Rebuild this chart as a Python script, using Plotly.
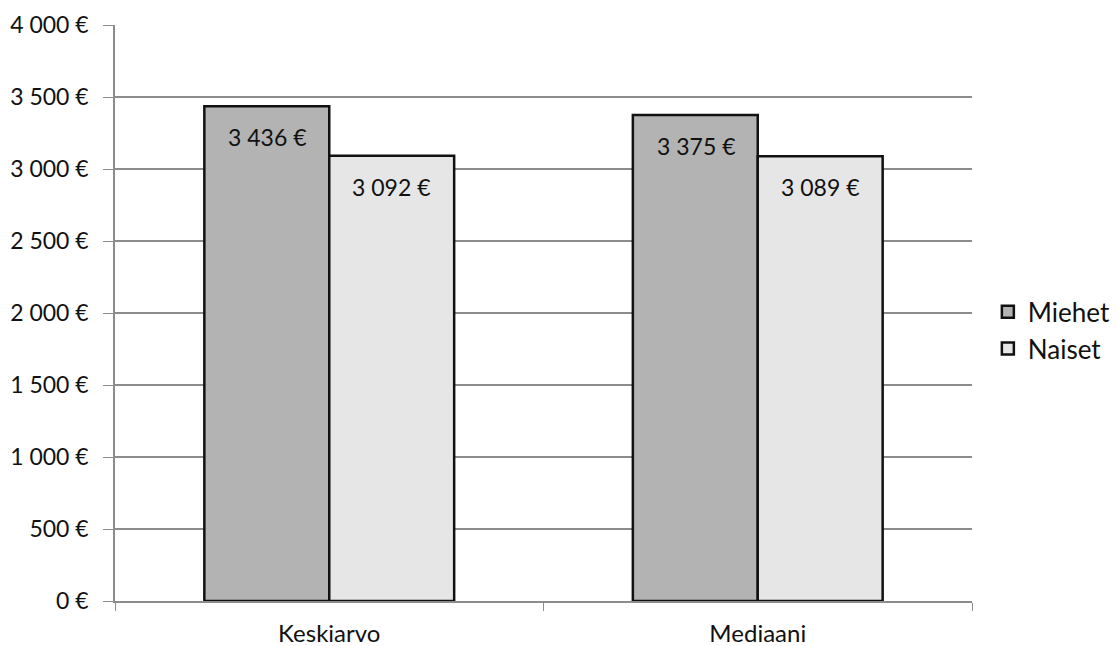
import plotly.graph_objects as go

categories = ["Keskiarvo", "Mediaani"]
series_names = ["Miehet", "Naiset"]
miehet = [3436, 3375]
naiset = [3092, 3089]
tick_vals = [0, 500, 1000, 1500, 2000, 2500, 3000, 3500, 4000]
tick_text = ["0 €", "500 €", "1 000 €", "1 500 €", "2 000 €", "2 500 €", "3 000 €", "3 500 €", "4 000 €"]

colors = ["#b3b3b3", "#e6e6e6"]
FONT = "Lato"
FS = 23


def fmt(v):
    return f"{v:,}".replace(",", " ") + " €"


fig = go.Figure()
for name, vals, col in zip(series_names, [miehet, naiset], colors):
    fig.add_trace(go.Bar(
        name=name, x=categories, y=vals, legendgroup=name,
        marker=dict(color=col, line=dict(color="#111111", width=2.5)),
        hoverinfo="skip",
    ))

annotations = []
for vals, shift in [(miehet, -62), (naiset, 62)]:
    for c, v in zip(categories, vals):
        annotations.append(dict(
            x=c, y=v, xref="x", yref="y", text=fmt(v), showarrow=False,
            xshift=shift, yshift=-31, font=dict(size=FS, color="#111111", family=FONT),
        ))

fig.update_layout(
    width=1119, height=646,
    margin=dict(l=107, r=155, t=17, b=53, autoexpand=False),
    paper_bgcolor="white", plot_bgcolor="white",
    barmode="group", bargap=0.417, bargroupgap=0,
    font=dict(family=FONT, size=FS, color="#111111"),
    annotations=annotations,
    showlegend=True,
    legend=dict(x=1.0185, y=0.47, xanchor="left", yanchor="middle",
                font=dict(size=26, family=FONT), bgcolor="rgba(0,0,0,0)",
                itemwidth=30, tracegroupgap=0, traceorder="grouped"),
    xaxis=dict(
        showline=True, linecolor="#8c8c8c", linewidth=1.5, automargin=False,
        ticks="outside", tickson="boundaries", ticklen=8, tickcolor="#8c8c8c",
        showgrid=False, tickfont=dict(size=24, family=FONT), ticklabelstandoff=10,
    ),
    yaxis=dict(
        range=[0, 4000], tickvals=tick_vals, ticktext=tick_text, automargin=False,
        showline=True, linecolor="#8c8c8c", linewidth=1.5,
        ticks="outside", ticklen=10, tickcolor="#8c8c8c",
        showgrid=True, gridcolor="#8c8c8c", gridwidth=1.5,
        zeroline=False, tickfont=dict(size=FS, family=FONT), ticklabelstandoff=10,
    ),
)

fig.write_html("out.html")
